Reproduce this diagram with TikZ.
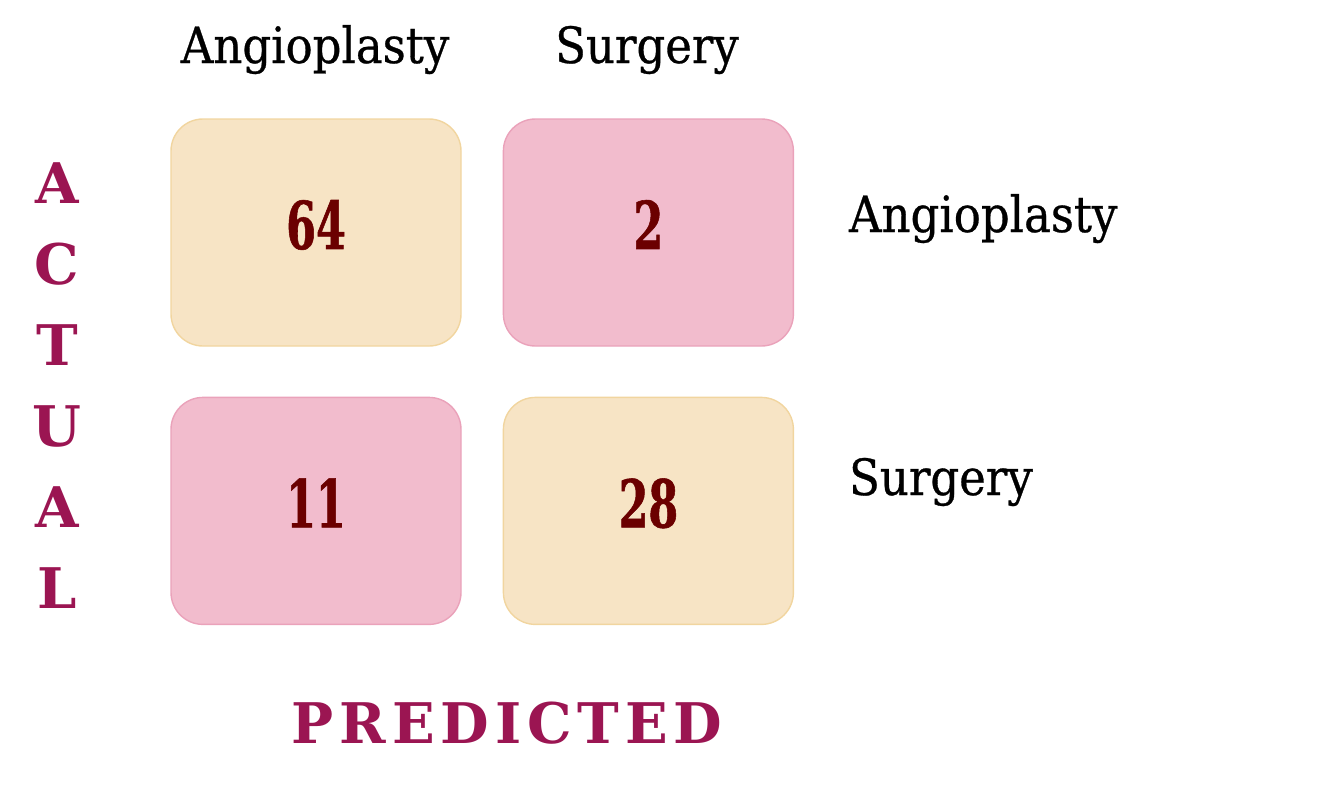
\documentclass[tikz,border=0pt]{standalone}
\usepackage{fontspec}
\setmainfont{DejaVu Serif Condensed}[FakeBold=0.6]
\newfontfamily\numfont[FakeStretch=0.72, FakeBold=0.8]{DejaVu Serif Condensed}
\newfontfamily\axisfont{DejaVu Serif}
\newfontfamily\spacedfont[LetterSpace=10.5]{DejaVu Serif}
\usetikzlibrary{positioning}
\definecolor{tanfill}{HTML}{F7E4C5}
\definecolor{tanline}{HTML}{F1D59F}
\definecolor{pinkfill}{HTML}{F2BCCD}
\definecolor{pinkline}{HTML}{EAA2BA}
\definecolor{numred}{HTML}{6B0000}
\definecolor{axisred}{HTML}{9B1552}

\begin{document}
\begin{tikzpicture}[
		x=0.5pt, y=-0.5pt,
		cell/.style={draw, rounded corners=16pt, line width=0.7pt, minimum width=145pt, minimum height=113.5pt, text depth=8pt, text=numred, font=\numfont\bfseries\fontsize{33}{40}\selectfont},
		hitcell/.style={cell, fill=tanfill, draw=tanline},
		misscell/.style={cell, fill=pinkfill, draw=pinkline},
		classlabel/.style={font=\fontsize{25}{30}\selectfont},
		axislabel/.style={text=axisred, font=\axisfont\bfseries\fontsize{28}{32}\selectfont},
	]
	\useasboundingbox (0, 0) rectangle (1327, 793);

	\node[hitcell] (c11) at (316, 232.5) {64};
	\node[misscell, right=20.5pt of c11] (c12) {2};
	\node[misscell, below=25pt of c11] (c21) {11};
	\node[hitcell, below=25pt of c12] (c22) {28};

	\node[classlabel, anchor=base] (pa) at (315, 63) {Angioplasty};
	\node[classlabel, anchor=base] (ps) at (647, 63) {Surgery};

	\node[classlabel, anchor=base west] (ra) at (842, 232) {Angioplasty};
	\node[classlabel, anchor=base west] (rs) at (842, 495) {Surgery};

	\foreach \ch [count=\i from 0] in {A, C, T, U, A, L}
		\node[axislabel, anchor=base] (act\i) at (57, 203+81*\i) {\ch};

	\node[axislabel, anchor=base, font=\spacedfont\bfseries\fontsize{28}{32}\selectfont] (pred) at (507, 743) {PREDICTED};
\end{tikzpicture}
\end{document}
